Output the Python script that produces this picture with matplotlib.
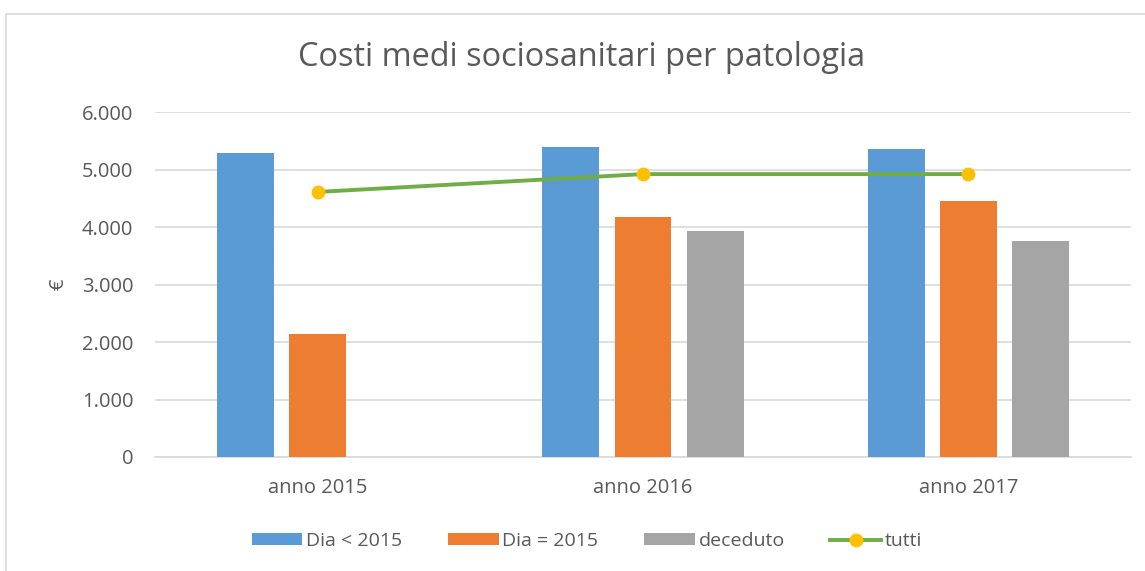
import numpy as np
import matplotlib.pyplot as plt
from matplotlib.ticker import FuncFormatter
from matplotlib.patches import Rectangle

plt.rcParams['font.family'] = ['Open Sans', 'DejaVu Sans']

categories = ['anno 2015', 'anno 2016', 'anno 2017']
dia_prima = [5290, 5390, 5350]
dia_2015 = [2140, 4170, 4450]
deceduto = [np.nan, 3930, 3760]
tutti = [4610, 4920, 4920]

c_blue = '#5B9BD5'
c_orange = '#ED7D31'
c_gray = '#A5A5A5'
c_green = '#70AD47'
c_yellow = '#FFC000'
txt = '#595959'
grid = '#D9D9D9'

fig = plt.figure(figsize=(11.45, 5.71), dpi=100)
fig.patches.append(Rectangle((6/1145, -0.05), 1.1, 1 - 14/571 + 0.05,
                             transform=fig.transFigure, fill=False,
                             edgecolor=grid, lw=1.2))
ax = fig.add_axes([155/1145, 1 - 457/571, (1131 - 155)/1145, (457 - 112)/571])

x = np.arange(len(categories))
w = 0.175
step = 0.222
b1 = ax.bar(x - step, dia_prima, w, color=c_blue, label='Dia < 2015', zorder=3)
b2 = ax.bar(x, dia_2015, w, color=c_orange, label='Dia = 2015', zorder=3)
b3 = ax.bar(x + step, deceduto, w, color=c_gray, label='deceduto', zorder=3)
l1, = ax.plot(x, tutti, color=c_green, lw=2.8, marker='o', ms=9,
              mfc=c_yellow, mec=c_yellow, label='tutti', zorder=4)

ax.set_xlim(-0.5, 2.5)
ax.set_ylim(0, 6000)
ax.set_yticks(np.arange(0, 6001, 1000))
ax.yaxis.set_major_formatter(FuncFormatter(lambda v, p: f'{int(v):,}'.replace(',', '.')))
ax.set_xticks(x)
ax.set_xticklabels(categories)
ax.tick_params(axis='both', length=0, colors=txt, labelsize=14.5)
ax.tick_params(axis='y', pad=15.5)
ax.tick_params(axis='x', pad=15)
ax.grid(axis='y', color=grid, lw=1.2, zorder=0)
for s in ['top', 'right', 'left']:
    ax.spines[s].set_visible(False)
ax.spines['bottom'].set_color(grid)
ax.spines['bottom'].set_linewidth(1.2)

ax.set_ylabel('€', color=txt, fontsize=14.5, labelpad=10)
fig.text(582/1145, 1 - 58/571, 'Costi medi sociosanitari per patologia',
         ha='center', va='center', color=txt, fontsize=23.4)

fig.legend([b1, b2, b3, l1], ['Dia < 2015', 'Dia = 2015', 'deceduto', 'tutti'],
           loc='center', bbox_to_anchor=(587/1145, 1 - 541/571), ncol=4,
           frameon=False, fontsize=14, labelcolor=txt, handlelength=2.6,
           handleheight=0.55, handletextpad=0.2, columnspacing=2.35)

fig.savefig('out.png', dpi=100)
